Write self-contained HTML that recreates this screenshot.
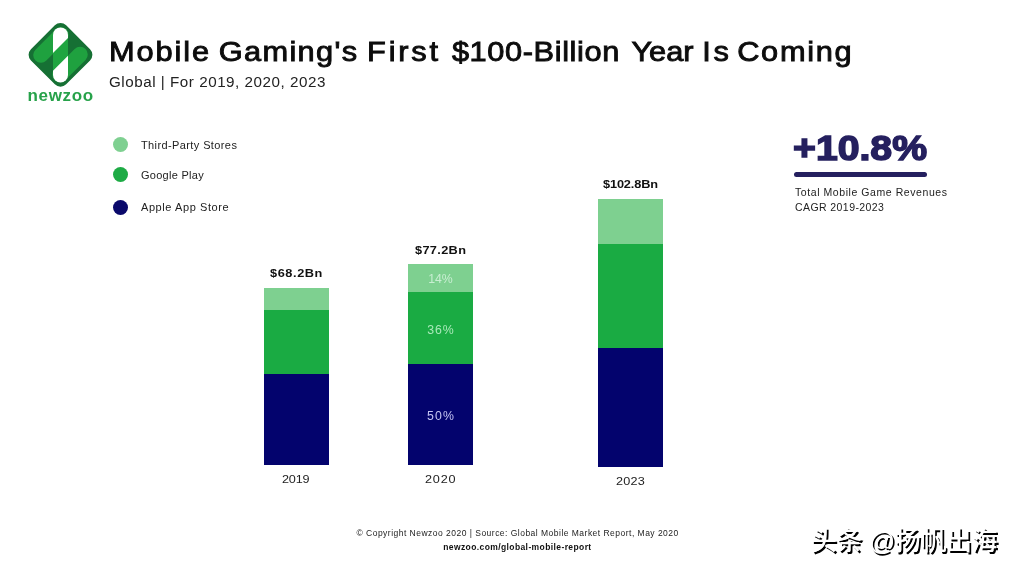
<!DOCTYPE html>
<html lang="en">
<head>
<meta charset="utf-8">
<title>Mobile Gaming's First $100-Billion Year Is Coming</title>
<style>
*{margin:0;padding:0;box-sizing:border-box}
html,body{width:1015px;height:571px;background:#fff;overflow:hidden}
body{position:relative;font-family:"Liberation Sans","Noto Sans CJK SC",sans-serif;color:#111}
.abs{position:absolute;white-space:nowrap;line-height:1}
#logo{position:absolute;left:20px;top:15px;width:90px;height:80px}
#brand{left:27.4px;top:86.9px;font-size:17px;font-weight:bold;color:#27a24a;letter-spacing:.7px}
#title{left:109.3px;top:37.4px;font-size:28.5px;letter-spacing:1.14px;color:#0c0c0c;-webkit-text-stroke:.9px #0c0c0c;transform-origin:0 0;transform:scaleX(1.08)}
#sub{left:109px;top:73.9px;font-size:15.2px;letter-spacing:.53px;color:#222}
.dot{position:absolute;width:15.3px;height:15.3px;border-radius:50%}
.leg{font-size:11px;color:#222;left:141px}
.seg{position:absolute}
.val{font-size:11.6px;font-weight:bold;color:#111;transform-origin:0 0;transform:scaleX(1.1)}
.yr{font-size:11.5px;color:#222;transform-origin:0 0;transform:scaleX(1.1)}
.pct{font-size:12.3px}
#big{left:793.3px;top:130.1px;font-size:35.3px;font-weight:bold;color:#25205f;-webkit-text-stroke:1.5px #25205f;transform-origin:0 0;transform:scaleX(1.11)}
#rule{position:absolute;left:794px;top:172px;width:133px;height:5px;border-radius:3px;background:#25205f}
.note{font-size:10.5px;color:#222;left:795px}
.foot{font-size:8.5px;color:#222}
#wm{left:810.8px;top:528.2px;font-size:26px;letter-spacing:-.4px;font-weight:500;color:#fff;text-shadow:1.8px 1.5px .3px #000;font-family:"Liberation Sans","Noto Sans CJK SC",sans-serif}
</style>
</head>
<body>
<svg id="logo" viewBox="20 15 90 80">
  <defs>
    <clipPath id="pc"><rect x="53" y="27.4" width="15" height="55" rx="7.5"/></clipPath>
  </defs>
  <rect x="-24.9" y="-24.9" width="49.8" height="49.8" rx="8" transform="translate(60.5 54.8) rotate(45)" fill="#167034"/>
  <line x1="40.9" y1="55.1" x2="61" y2="35" stroke="#1fa13f" stroke-width="15.4" stroke-linecap="round"/>
  <line x1="80.1" y1="54.5" x2="60" y2="74.6" stroke="#1fa13f" stroke-width="15.4" stroke-linecap="round"/>
  <rect x="53" y="27.4" width="15" height="55" rx="7.5" fill="#fff"/>
  <polygon clip-path="url(#pc)" points="40,66 70,36 80,43.8 50,73.8" fill="#1fa540"/>
</svg>
<div class="abs" id="brand">newzoo</div>

<div class="abs" id="title"><span style="letter-spacing:1.77px">Mobile</span> <span style="letter-spacing:1.23px;margin-left:-2.0px">Gaming's</span> <span style="letter-spacing:2.58px;margin-left:-1.1px">First</span> <span style="letter-spacing:.55px;margin-left:1.2px">$100-Billion</span> <span style="letter-spacing:-.06px;margin-left:1.7px">Year</span> <span style="letter-spacing:2.7px;margin-left:-1.0px">Is</span> <span style="letter-spacing:1.57px;margin-left:-4.2px">Coming</span></div>
<div class="abs" id="sub">Global | For 2019, 2020, 2023</div>

<div class="dot" style="left:113px;top:136.8px;background:#7fd091"></div>
<div class="dot" style="left:113px;top:166.8px;background:#1eab45"></div>
<div class="dot" style="left:113px;top:200.2px;background:#0a096b"></div>
<div class="abs leg" style="top:140px;letter-spacing:.39px">Third-Party Stores</div>
<div class="abs leg" style="top:169.5px;letter-spacing:.27px">Google Play</div>
<div class="abs leg" style="top:202px;letter-spacing:.58px">Apple App Store</div>

<!-- 2019 -->
<div class="seg" style="left:264px;top:288px;width:65px;height:22px;background:#7ed090"></div>
<div class="seg" style="left:264px;top:310px;width:65px;height:64px;background:#1aab43"></div>
<div class="seg" style="left:264px;top:374px;width:65px;height:91.4px;background:#03036d"></div>
<div class="abs val" style="left:270px;top:266.5px;letter-spacing:.53px">$68.2Bn</div>
<div class="abs yr" style="left:282.4px;top:473.8px;letter-spacing:-.18px">2019</div>

<!-- 2020 -->
<div class="seg" style="left:408px;top:264.4px;width:65px;height:27.6px;background:#7ed090"></div>
<div class="seg" style="left:408px;top:292px;width:65px;height:72px;background:#1aab43"></div>
<div class="seg" style="left:408px;top:364px;width:65px;height:101.4px;background:#03036d"></div>
<div class="abs val" style="left:415.4px;top:244.1px;letter-spacing:.31px">$77.2Bn</div>
<div class="abs pct" style="left:428.2px;top:273px;color:#c8eed2">14%</div>
<div class="abs pct" style="left:427.2px;top:323.5px;color:#a9e9b9;letter-spacing:.9px">36%</div>
<div class="abs pct" style="left:427px;top:409.8px;color:#c4c4f2;letter-spacing:1.2px">50%</div>
<div class="abs yr" style="left:425.4px;top:473.8px;letter-spacing:.72px">2020</div>

<!-- 2023 -->
<div class="seg" style="left:598px;top:198.6px;width:65px;height:45.4px;background:#7ed090"></div>
<div class="seg" style="left:598px;top:244px;width:65px;height:103.5px;background:#1aab43"></div>
<div class="seg" style="left:598px;top:347.5px;width:65px;height:119.2px;background:#03036d"></div>
<div class="abs val" style="left:602.6px;top:178px;letter-spacing:-.13px">$102.8Bn</div>
<div class="abs yr" style="left:616.2px;top:475.6px;letter-spacing:.2px">2023</div>

<div class="abs" id="big">+10.8%</div>
<div id="rule"></div>
<div class="abs note" style="top:187.2px;letter-spacing:.57px">Total Mobile Game Revenues</div>
<div class="abs note" style="top:202.2px;letter-spacing:.42px">CAGR 2019-2023</div>

<div class="abs foot" id="f1" style="left:356.5px;top:528.9px;letter-spacing:.48px">© Copyright Newzoo 2020 | Source: Global Mobile Market Report, May 2020</div>
<div class="abs foot" id="f2" style="left:443.2px;top:543px;font-weight:bold;color:#111;letter-spacing:.4px">newzoo.com/global-mobile-report</div>

<div class="abs" id="wm">头条 @扬帆出海</div>
</body>
</html>
